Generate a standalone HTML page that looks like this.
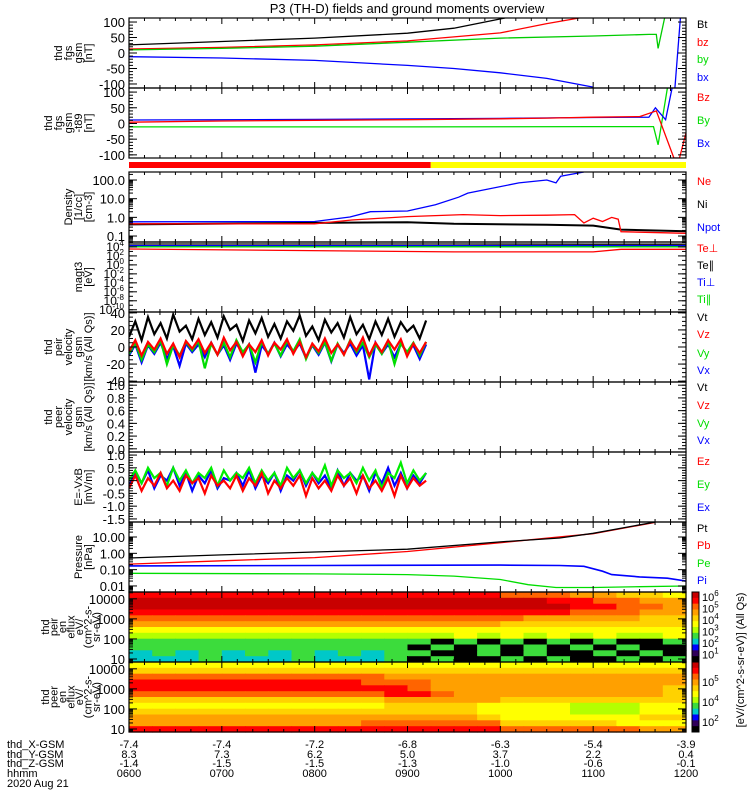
<!DOCTYPE html>
<html><head><meta charset="utf-8"><style>
html,body{margin:0;padding:0;background:#fff;}
svg{display:block;font-family:"Liberation Sans",sans-serif;}
</style></head><body>
<svg id="plot" width="750" height="800" viewBox="0 0 750 800">
<defs id="defs"></defs>
<text x="407" y="13" font-size="13" text-anchor="middle">P3 (TH-D) fields and ground moments overview</text>
</svg>
<script>
// ---------- data ----------
const hourTicks = [6,7,8,9,10,11,12];
const xGsm = ["-7.4","-7.4","-7.2","-6.8","-6.3","-5.4","-3.9"];
const yGsm = ["8.3","7.3","6.2","5.0","3.7","2.2","0.4"];
const zGsm = ["-1.4","-1.5","-1.5","-1.3","-1.0","-0.6","-0.1"];
const hhmm = ["0600","0700","0800","0900","1000","1100","1200"];

const btT=[6,7,8,9,9.5,10.05], btV=[26,37,48,64,80,113];
const bzT=[6,7,8,9,10,10.5,10.85], bzV=[13,18,26,39,65,95,113];
const byT=[6,7,8,9,10,11,11.6,11.68,11.70,11.77], byV=[10,15,22,35,48,55,60,60,15,113];
const bxT=[6,7,8,9,9.5,10,10.5,11], bxV=[-12,-16,-24,-40,-50,-64,-82,-110];
const bx2T=[11.88,11.94], bx2V=[-113,113];

const BzT=[6,7,8,9,10,10.5,11,11.5,11.68,11.87,11.93,12], BzV=[4,8,10,12,15,17,20,22,40,-110,-110,-30];
const ByT=[6,9,11,11.65,11.70,11.8], ByV=[-11,-11,-10,-10,-68,113];
const BxT=[6,8,10,11,11.6,11.67,11.78,11.85], BxV=[11,13,16,19,20,50,12,113];

const npT=[6,8,8.38,8.6,9.0,9.3,9.55,9.65,10.2,10.5,10.6,10.65,10.9], npV=[0.58,0.6,1.05,2.0,2.2,4.7,12,20,70,100,70,160,270];
const neT=[6,8,8.4,9,9.6,10,10.5,10.8,10.9,11.0,11.1,11.2,11.27,11.3,12], neV=[0.45,0.45,0.72,1.1,1.4,1.25,1.3,1.4,0.5,0.9,0.6,1.0,0.8,0.17,0.14];
const niT=[6,9,9.5,10.5,11,11.3,12], niV=[0.42,0.55,0.45,0.4,0.36,0.22,0.18];

const tempT=[6,9.5,11,11.3,12];
const tePerpV=[3500,800,800,3000,3000];
const teParV=[45000,45000,40000,40000,40000];
const tiPerpV=[16000,16000,16000,16000,16000];
const tiParV=[11000,11000,11000,11000,11000];

const vTimes0=6, vTimes1=9.2;
const vt=[12,30,8,35,15,28,10,38,18,25,9,33,14,29,11,36,20,26,7,31,16,34,12,27,10,30,19,37,13,24,8,32,17,28,11,35,15,26,9,30,14,33,12,29,18,25,10,31];
const vz=[-5,8,-10,6,-3,10,-8,4,-12,7,-2,9,-7,5,-9,11,-4,6,-11,3,-6,8,-10,5,-3,9,-8,6,-12,4,-5,10,-7,3,-9,7,-4,11,-10,5,-6,8,-3,9,-11,4,-7,6];
const vy=[-8,5,-15,3,-6,8,-20,2,-10,6,-4,7,-25,4,-9,5,-12,8,-6,3,-18,6,-8,4,-10,7,-5,9,-14,3,-7,6,-16,4,-9,8,-6,5,-12,3,-8,7,-20,4,-6,5,-10,6];
const vx=[-10,3,-18,2,-8,5,-14,1,-22,4,-6,3,-12,5,-9,2,-15,4,-7,3,-30,2,-8,5,-11,3,-6,4,-13,2,-9,5,-17,3,-7,4,-10,2,-38,5,-8,3,-12,4,-6,2,-14,3];

const ex=[-0.2,0.3,-0.1,0.4,-0.3,0.2,0.0,0.5,-0.2,0.3,-0.4,0.2,-0.1,0.4,-0.3,0.1,0.0,0.3,-0.2,0.4,-0.3,0.2,-0.1,0.3,-0.4,0.2,0.0,0.4,-0.2,0.3,-0.1,0.2,-0.3,0.4,-0.2,0.3,0.0,0.2,-0.4,0.3,-0.1,0.5,-0.2,0.3,-0.3,0.2,-0.1,0.3];
const ey=[0.0,0.4,-0.1,0.5,0.1,0.3,-0.2,0.5,0.0,0.4,-0.1,0.3,0.1,0.5,-0.2,0.4,0.0,0.3,0.1,0.5,-0.1,0.4,0.0,0.3,-0.2,0.5,0.1,0.4,-0.1,0.3,0.0,0.6,-0.2,0.4,0.1,0.3,-0.1,0.5,0.0,0.4,-0.3,0.3,0.1,0.7,-0.1,0.4,0.0,0.3];
const ez=[-0.3,0.2,-0.4,0.1,-0.2,0.3,-0.3,0.0,-0.4,0.2,-0.1,0.1,-0.5,0.2,-0.2,0.0,-0.3,0.2,-0.4,0.1,-0.2,0.3,-0.5,0.0,-0.3,0.1,-0.2,0.2,-0.6,0.1,-0.3,0.0,-0.4,0.2,-0.2,0.1,-0.5,0.2,-0.3,0.0,-0.4,0.1,-0.6,0.2,-0.3,0.1,-0.2,0.0];

const ptT=[6,7,8,9,10,10.64,11,11.67], ptV=[0.52,0.8,1.2,1.8,5,8.7,17,83];
const pbT=[6,7,8,9,10,11,11.67], pbV=[0.22,0.35,0.55,1.3,4.5,16,80];
const piT=[6,8,10,10.64,10.9,11.1,11.2,11.5,11.8,12], piV=[0.17,0.18,0.19,0.18,0.16,0.08,0.05,0.036,0.03,0.02];
const peT=[6,8,9,9.5,10,10.3,10.6,11,11.5,12], peV=[0.06,0.055,0.05,0.04,0.025,0.012,0.008,0.008,0.009,0.01];

const peirRows=[
"aaaaaaaaaaaaaaaa99988776",
"bbbbbbbbbbbbbbbbbbaa9988",
"bbbbbbbbbbbbbbbbbbbaa998",
"aaaaaaaaaaaaaaaaaaa99988",
"999999999999999998888877",
"888888888888888877777777",
"666666666666666666666666",
"555555555555556565656556",
"444444444444404040404004",
"444444444444040404040400",
"343434343434400404004040",
"333433343334040040400404"];
const peerRows=[
"666666666666666666666666",
"777777777777777777777777",
"999999999998888888888888",
"aaaaaaaaaa99988888888888",
"aaaaaaaaaaaa988888888887",
"99999999999aa98888888887",
"777777777778888877777777",
"666666666667777666655566",
"777777777777777666655566",
"888888888888888766666677",
"888888888899999977777666",
"aaaaaaaaaaaaaaaa99999988"];
const levelColors={"0":"#000000","1":"#30005a","2":"#0000ff","3":"#00c8c8","4":"#3cdc3c","5":"#b4ff00","6":"#ffff00","7":"#ffd200","8":"#ffa000","9":"#ff6400","a":"#ff0000","b":"#c80000"};

// ---------- helpers ----------
const svg=document.getElementById('plot');
const defs=document.getElementById('defs');
const NS='http://www.w3.org/2000/svg';
const L=129,R=686;
function X(h){return L+(h-6)*(R-L)/6;}
function el(tag,attrs,parent){const e=document.createElementNS(NS,tag);for(const k in attrs)e.setAttribute(k,attrs[k]);(parent||svg).appendChild(e);return e;}

const panels={
 fgs:{top:18,bottom:88,min:-113,max:113,log:false,ticks:[100,50,0,-50,-100],minor:10,lines:["thd","fgs","gsm","[nT]"]},
 fgs2:{top:88,bottom:158,min:-110,max:113,log:false,ticks:[100,50,0,-50,-100],minor:10,lines:["thd","fgs","gsm","-t89","[nT]"]},
 dens:{top:172,bottom:242,min:-1.32,max:2.43,log:true,ticks:[2,1,0,-1],tl:["100.0","10.0","1.0","0.1"],lines:["Density","[1/cc]","[cm-3]"]},
 temp:{top:242,bottom:312,min:-10.5,max:5.1,log:true,ticks:[4,2,0,-2,-4,-6,-8,-10],sup:true,lines:["magt3","[eV]"]},
 vel:{top:312,bottom:382,min:-41,max:41,log:false,ticks:[40,20,0,-20,-40],minor:5,lines:["thd","peir","velocity","gsm","[km/s (All Qs)]"]},
 vel2:{top:382,bottom:452,min:-0.05,max:1.05,log:false,ticks:[1.0,0.8,0.6,0.4,0.2,0.0],minor:0.05,fix:1,lines:["thd","peer","velocity","gsm","[km/s (All Qs)]"]},
 ef:{top:452,bottom:522,min:-1.62,max:1.12,log:false,ticks:[1.0,0.5,0.0,-0.5,-1.0,-1.5],minor:0.1,fix:1,lines:["E=-VxB","[mV/m]"]},
 pres:{top:522,bottom:592,min:-2.37,max:1.92,log:true,ticks:[1,0,-1,-2],tl:["10.00","1.00","0.10","0.01"],lines:["Pressure","[nPa]"]},
 peir:{top:592,bottom:662,min:0.85,max:4.34,log:true,ticks:[4,3,2,1],tl:["10000","1000","100","10"],lines:["thd","peir","en","eflux","eV/","(cm^2-s-","sr-eV)"]},
 peer:{top:662,bottom:732,min:0.85,max:4.34,log:true,ticks:[4,3,2,1],tl:["10000","1000","100","10"],lines:["thd","peer","en","eflux","eV/","(cm^2-s-","sr-eV)"]}
};
for(const k in panels){
 const p=panels[k];
 p.YL=lv=>p.top+(p.max-lv)/(p.max-p.min)*(p.bottom-p.top);
 p.Y=v=>p.log?p.YL(Math.log10(Math.max(v,1e-30))):p.YL(v);
 const cp=el('clipPath',{id:'clip-'+k},defs);
 el('rect',{x:L,y:p.top,width:R-L,height:p.bottom-p.top},cp);
 p.clip='url(#clip-'+k+')';
}

function series(p,ts,vs,color,name,w){
 const pts=ts.map((t,i)=>X(t).toFixed(1)+','+p.Y(vs[i]).toFixed(1)).join(' ');
 const e=el('polyline',{points:pts,fill:'none',stroke:color,'stroke-width':w||1.3,'clip-path':p.clip,'stroke-linejoin':'miter'});
 
 
}
function noisy(p,arr,color,name){
 const n=arr.length;
 const ts=arr.map((_,i)=>vTimes0+(vTimes1-vTimes0)*i/(n-1));
 series(p,ts,arr,color,name,2.2);
}

// ---------- spectrograms ----------
function spectro(p,rows,name){
 const g=el('g',{});
 
 
 const nr=rows.length;
 rows.forEach((row,r)=>{
  const y0=p.top+r*(p.bottom-p.top)/nr, y1=p.top+(r+1)*(p.bottom-p.top)/nr;
  for(let c=0;c<row.length;c++){
   const x0=X(6+c*0.25), x1=X(6+(c+1)*0.25);
   el('rect',{x:x0.toFixed(1),y:y0.toFixed(1),width:(x1-x0+0.6).toFixed(1),height:(y1-y0+0.6).toFixed(1),fill:levelColors[row[c]]},g);
  }
 });
}
spectro(panels.peir,peirRows,'peir-spectrogram');
spectro(panels.peer,peerRows,'peer-spectrogram');

// ---------- status bar ----------
const sb1=el('rect',{x:L,y:162,width:X(9.25)-L,height:6,fill:'#ff0000'});

const sb2=el('rect',{x:X(9.25),y:162,width:R-X(9.25),height:6,fill:'#ffff00'});


// ---------- series ----------
const P=panels;
series(P.fgs,btT,btV,'#000','bt-line');
series(P.fgs,bzT,bzV,'#f00','bz-line');
series(P.fgs,byT,byV,'#0c0','by-line');
series(P.fgs,bxT,bxV,'#00f','bx-line');
series(P.fgs,bx2T,bx2V,'#00f','bx-line-late');
series(P.fgs2,ByT,ByV,'#0d0','By-line');
series(P.fgs2,BxT,BxV,'#00f','Bx-line');
series(P.fgs2,BzT,BzV,'#f00','Bz-line');
series(P.dens,npT,npV,'#00f','npot-line');
series(P.dens,niT,niV,'#000','ni-line',2);
series(P.dens,neT,neV,'#f00','ne-line');
series(P.temp,tempT,teParV,'#000','te-par-line');
series(P.temp,tempT,tiPerpV,'#00f','ti-perp-line',2);
series(P.temp,tempT,tiParV,'#0d0','ti-par-line');
series(P.temp,tempT,tePerpV,'#f00','te-perp-line');
noisy(P.vel,vx,'#00f','vx-line');
noisy(P.vel,vy,'#0d0','vy-line');
noisy(P.vel,vt,'#000','vt-line');
noisy(P.vel,vz,'#f00','vz-line');
noisy(P.ef,ex,'#00f','ex-line');
noisy(P.ef,ey,'#0e0','ey-line');
noisy(P.ef,ez,'#f00','ez-line');
series(P.pres,peT,peV,'#0d0','pe-line');
series(P.pres,piT,piV,'#00f','pi-line',1.6);
series(P.pres,pbT,pbV,'#f00','pb-line');
series(P.pres,ptT,ptV,'#000','pt-line');

// ---------- axes ----------
for(const k in P){
 const p=P[k];
 const fr=el('rect',{x:L,y:p.top,width:R-L,height:p.bottom-p.top,fill:'none',stroke:'#000','stroke-width':1.2});
 
 for(let m=0;m<=360;m+=10){
  const x=X(6+m/60), len=(m%60===0)?6:3;
  el('line',{x1:x,y1:p.bottom,x2:x,y2:p.bottom-len,stroke:'#000'});
  el('line',{x1:x,y1:p.top,x2:x,y2:p.top+len,stroke:'#000'});
 }
 p.ticks.forEach((v,i)=>{
  const y=p.YL(v);
  el('line',{x1:L,y1:y,x2:L+8,y2:y,stroke:'#000'});
  el('line',{x1:R,y1:y,x2:R-8,y2:y,stroke:'#000'});
  let t;
  if(p.sup){
   t=el('text',{x:124,y:y+4,'font-size':12,'text-anchor':'end'});
   t.textContent='10';
   const s=el('tspan',{dy:-5,'font-size':8},t);s.textContent=String(v);
  }else{
   t=el('text',{x:125,y:y+5,'font-size':13,'text-anchor':'end'});
   t.textContent=p.tl?p.tl[i]:(p.fix?v.toFixed(p.fix):String(v));
  }
  
 });
 if(p.log&&!p.sup){
  for(let d=Math.floor(p.min);d<=Math.ceil(p.max);d++)for(let m=2;m<10;m++){
   const lv=d+Math.log10(m); if(lv<p.min||lv>p.max)continue;
   const y=p.YL(lv);
   el('line',{x1:L,y1:y,x2:L+4,y2:y,stroke:'#000'});
   el('line',{x1:R,y1:y,x2:R-4,y2:y,stroke:'#000'});
  }
 } else if(!p.log){
  for(let v=p.ticks[p.ticks.length-1];v<=p.ticks[0]+1e-9;v+=p.minor){
   const y=p.YL(v);
   el('line',{x1:L,y1:y,x2:L+4,y2:y,stroke:'#000'});
   el('line',{x1:R,y1:y,x2:R-4,y2:y,stroke:'#000'});
  }
 } else {
  for(let d=Math.ceil(p.min);d<=Math.floor(p.max);d++){
   const y=p.YL(d);
   el('line',{x1:L,y1:y,x2:L+4,y2:y,stroke:'#000'});
   el('line',{x1:R,y1:y,x2:R-4,y2:y,stroke:'#000'});
  }
 }
 const n=p.lines.length, cy=(p.top+p.bottom)/2;
 p.lines.forEach((s,i)=>{
  const x=(k==='peir'||k==='peer')?(100-(n-1-i)*8.5):(92-(n-1-i)*10);
  const t=el('text',{x:0,y:0,'font-size':11,'text-anchor':'middle',transform:`translate(${x},${cy}) rotate(-90)`});
  t.textContent=s;
  
 });
}

// ---------- legends ----------
const legends=[
 ["Bt","#000",24],["bz","#f00",42],["by","#0d0",59],["bx","#00f",77],
 ["Bz","#f00",97],["By","#0d0",120],["Bx","#00f",143],
 ["Ne","#f00",181],["Ni","#000",204],["Npot","#00f",227],
 ["Te⊥","#f00",248],["Te∥","#000",265],["Ti⊥","#00f",282],["Ti∥","#0d0",299],
 ["Vt","#000",317],["Vz","#f00",334],["Vy","#0d0",353],["Vx","#00f",370],
 ["Vt","#000",387],["Vz","#f00",405],["Vy","#0d0",423],["Vx","#00f",440],
 ["Ez","#f00",461],["Ey","#0d0",484],["Ex","#00f",507],
 ["Pt","#000",528],["Pb","#f00",545],["Pe","#0d0",563],["Pi","#00f",580]];
legends.forEach(([s,c,y])=>{
 const t=el('text',{x:697,y:y+4,'font-size':11,fill:c});
 t.textContent=s;
 
 
});

// ---------- colorbars ----------
const cbLevels=["b","a","9","8","7","6","5","4","3","2","1","0"];
[[592,662,["6","5","4","3","2","1"]],[662,732,["5","4","2"]]].forEach(([t,b,labs],ci)=>{
 const h=(b-t)/cbLevels.length;
 cbLevels.forEach((lv,i)=>el('rect',{x:692,y:t+i*h,width:7,height:h+0.5,fill:levelColors[lv]}));
 const f=el('rect',{x:692,y:t,width:7,height:b-t,fill:'none',stroke:'#000'});
 
 labs.forEach((e,i)=>{
  const y=ci===0?(t+5+i*11.5):(t+20+i*20);
  const tx=el('text',{x:702,y:y+4,'font-size':11});tx.textContent='10';
  const s=el('tspan',{dy:-5,'font-size':8},tx);s.textContent=e;
  
 });
});
const cbt=el('text',{x:0,y:0,'font-size':11,'text-anchor':'middle',transform:'translate(744,660) rotate(-90)'});
cbt.textContent='[eV/(cm^2-s-sr-eV)]  (All Qs)';


// ---------- bottom annotation ----------
const rowY=[748,758,767,777];
const rowNames=["thd_X-GSM","thd_Y-GSM","thd_Z-GSM","hhmm"];
const rowVals=[xGsm,yGsm,zGsm,hhmm];
rowNames.forEach((n,i)=>{
 const t=el('text',{x:7,y:rowY[i],'font-size':11});t.textContent=n;
 
 hourTicks.forEach((h,j)=>{
  const v=el('text',{x:X(h),y:rowY[i],'font-size':11,'text-anchor':'middle'});v.textContent=rowVals[i][j];
  
 });
});
const dt=el('text',{x:7,y:787,'font-size':11});dt.textContent='2020 Aug 21';

</script>
</body></html>
